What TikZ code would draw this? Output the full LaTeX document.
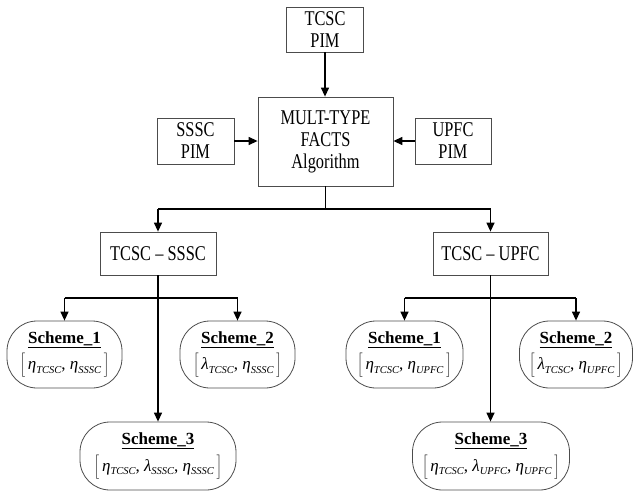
\documentclass[tikz,border=0pt]{standalone}
\usepackage{fontspec}
% narrow serif for the block labels, regular one for the scheme labels
\setmainfont{Liberation Serif}[FakeStretch=0.78]
\newfontfamily\schemefont{Liberation Serif}
\usetikzlibrary{arrows.meta}

% italic subscript used in the scheme vectors
\newcommand\subidx[1]{\raisebox{-0.45ex}{\fontsize{10.5}{11}\selectfont\itshape #1}}
\newcommand\gEta{{\itshape η}}
\newcommand\gLam{{\itshape λ}}
\newcommand\schemetext[2]{\underline{\textbf{Scheme\_#1}}\\[5pt]$\bigg[$\,#2\,$\bigg]$}

\begin{document}
\begin{tikzpicture}[x=1pt,y=-1pt,
  every node/.style={font=\fontsize{21}{22}\selectfont},
  box/.style={draw=black!70, line width=0.8pt, align=center, inner sep=0pt},
  scheme/.style={box, rounded corners=30pt, font=\schemefont\fontsize{17}{21.5}\selectfont},
  conn/.style={line width=1.3pt, -{Triangle[length=9pt,width=8pt]}},
  seg/.style={line width=1.3pt}]
\useasboundingbox (0,0) rectangle (633,491);

% inputs and the algorithm block
\node[box, minimum width=77pt, minimum height=45pt] (tpim) at (325,29.5) {TCSC\\PIM};
\node[box, minimum width=135pt, minimum height=89pt] (mult) at (325.5,141.5) {MULT-TYPE\\FACTS\\Algorithm};
\node[box, minimum width=77pt, minimum height=46pt] (spim) at (195.5,141) {SSSC\\PIM};
\node[box, minimum width=76pt, minimum height=46pt] (upim) at (453,141) {UPFC\\PIM};

% device pairs
\node[box, minimum width=116pt, minimum height=43pt] (ts) at (158,253.5) {TCSC -- SSSC};
\node[box, minimum width=115pt, minimum height=43pt] (tu) at (490.5,253.5) {TCSC -- UPFC};

% schemes of the TCSC--SSSC pair
\node[scheme, minimum width=115pt, minimum height=67pt] (s1L) at (64.5,354.5)
  {\schemetext{1}{\gEta\subidx{TCSC}, \gEta\subidx{SSSC}}};
\node[scheme, minimum width=115pt, minimum height=67pt] (s2L) at (237.5,354.5)
  {\schemetext{2}{\gLam\subidx{TCSC}, \gEta\subidx{SSSC}}};
\node[scheme, minimum width=156pt, minimum height=68pt] (s3L) at (158,456)
  {\schemetext{3}{\gEta\subidx{TCSC}, \gLam\subidx{SSSC}, \gEta\subidx{SSSC}}};

% schemes of the TCSC--UPFC pair
\node[scheme, minimum width=117pt, minimum height=67pt] (s1R) at (404.5,354.5)
  {\schemetext{1}{\gEta\subidx{TCSC}, \gEta\subidx{UPFC}}};
\node[scheme, minimum width=113pt, minimum height=67pt] (s2R) at (576,354.5)
  {\schemetext{2}{\gLam\subidx{TCSC}, \gEta\subidx{UPFC}}};
\node[scheme, minimum width=157pt, minimum height=68pt] (s3R) at (491,456)
  {\schemetext{3}{\gEta\subidx{TCSC}, \gLam\subidx{UPFC}, \gEta\subidx{UPFC}}};

% branch points
\coordinate (bA) at (325.5,209);
\coordinate (bL) at (158,298);
\coordinate (bR) at (490.5,298);

% inputs into the algorithm
\draw[conn] (tpim.south) -- (tpim.south |- mult.north);
\draw[conn] (spim.east) -- (spim.east -| mult.west);
\draw[conn] (upim.west) -- (upim.west -| mult.east);

% algorithm to the device pairs
\draw[seg] (mult.south -| bA) -- (bA);
\draw[seg] (ts.north |- bA) -- (tu.north |- bA);
\draw[conn] (ts.north |- bA) -- (ts.north);
\draw[conn] (tu.north |- bA) -- (tu.north);

% left pair to its schemes
\draw[conn] (ts.south) -- (ts.south |- s3L.north);
\draw[seg] (s1L.north |- bL) -- (s2L.north |- bL);
\draw[conn] (s1L.north |- bL) -- (s1L.north);
\draw[conn] (s2L.north |- bL) -- (s2L.north);

% right pair to its schemes
\draw[conn] (tu.south) -- (tu.south |- s3R.north);
\draw[seg] (s1R.north |- bR) -- (s2R.north |- bR);
\draw[conn] (s1R.north |- bR) -- (s1R.north);
\draw[conn] (s2R.north |- bR) -- (s2R.north);
\end{tikzpicture}
\end{document}
